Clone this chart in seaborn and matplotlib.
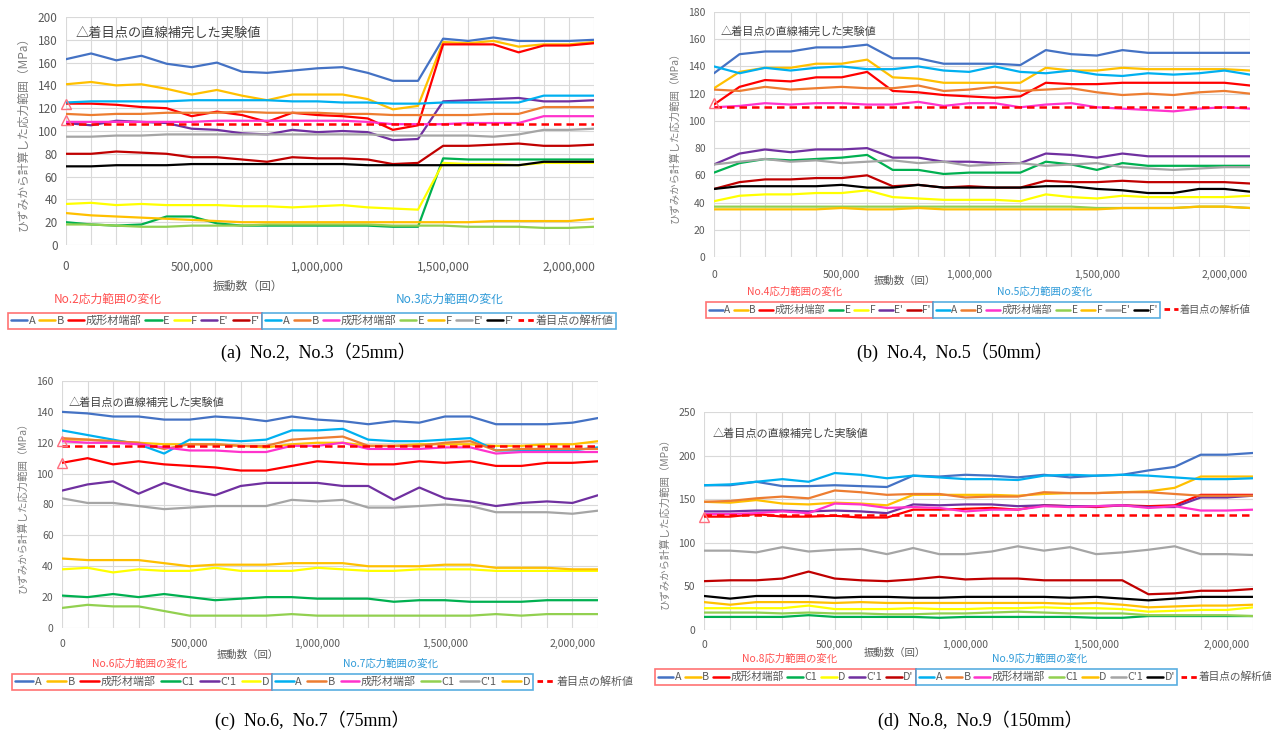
import matplotlib
matplotlib.use("Agg")
import matplotlib.pyplot as plt
from matplotlib.lines import Line2D
import seaborn as sns
import pandas as pd

# ---------------- data ----------------
cycles = [0, 100000, 200000, 300000, 400000, 500000, 600000, 700000, 800000, 900000, 1000000,
          1100000, 1200000, 1300000, 1400000, 1500000, 1600000, 1700000, 1800000, 1900000,
          2000000, 2100000]

# (a) No.2 / No.3 (25mm)
no2_A = [163,168,162,166,159,156,160,152,151,153,155,156,151,144,144,181,179,182,179,179,179,180]
no2_B = [141,143,140,141,137,132,136,131,127,132,132,132,128,119,122,178,177,179,174,176,176,178]
no2_edge = [124,124,123,121,120,113,117,114,108,116,114,113,111,101,105,176,176,176,169,175,175,177]
no2_E = [20,18,17,18,25,25,19,17,17,17,17,17,17,16,16,76,75,75,75,75,75,75]
no2_F = [36,37,35,36,35,35,35,34,34,33,34,35,33,32,31,72,71,71,70,72,72,72]
no2_Ep = [107,105,109,108,107,102,101,98,97,101,99,100,99,92,93,126,127,128,129,126,126,127]
no2_Fp = [80,80,82,81,80,77,77,75,73,77,76,76,75,71,72,87,87,88,89,87,87,88]
no3_A = [125,126,126,126,126,127,127,127,127,126,126,125,125,124,124,125,125,125,125,131,131,131]
no3_B = [115,114,115,115,116,116,116,117,116,116,116,115,115,114,114,114,114,115,115,121,121,121]
no3_edge = [108,108,108,108,108,108,109,109,109,109,109,109,108,106,106,106,107,107,107,113,113,113]
no3_E = [18,18,17,16,16,17,17,17,18,18,18,18,18,17,17,17,16,16,16,15,15,16]
no3_F = [28,26,25,24,23,22,21,20,20,20,20,20,20,20,20,20,20,21,21,21,21,23]
no3_Ep = [95,95,96,96,97,97,97,97,97,97,97,97,97,96,96,96,96,95,97,101,101,102]
no3_Fp = [69,69,70,70,70,71,71,71,71,71,71,71,70,70,70,70,70,70,70,73,73,73]
calc_a = 106
tri_a = [124, 110]

# (b) No.4 / No.5 (50mm)
no4_A = [135,149,151,151,154,154,156,146,146,142,142,142,141,152,149,148,152,150,150,150,150,150]
no4_B = [124,136,139,139,142,142,145,132,131,128,128,128,128,139,137,137,139,138,138,138,138,137]
no4_edge = [112,125,130,129,132,132,136,122,121,119,118,117,118,128,127,127,128,128,128,128,128,126]
no4_E = [62,69,72,71,72,73,75,64,64,61,62,62,62,70,68,64,69,67,67,67,67,67]
no4_F = [41,45,46,46,47,47,49,44,43,42,42,42,41,46,44,43,45,44,44,44,44,45]
no4_Ep = [68,76,79,77,79,79,80,73,73,70,70,69,69,76,75,73,76,74,74,74,74,74]
no4_Fp = [50,55,57,57,58,58,60,52,53,51,52,51,51,56,55,55,56,55,55,55,55,54]
no5_A = [140,135,139,137,139,140,138,138,140,137,136,140,136,135,137,134,133,135,134,135,137,134]
no5_B = [123,122,125,123,124,125,124,124,126,122,123,125,122,123,124,121,119,120,119,121,122,120]
no5_edge = [110,111,113,112,113,113,112,112,114,111,113,113,110,112,113,110,109,108,107,109,110,109]
no5_E = [37,37,37,37,37,37,37,37,37,37,37,37,37,37,37,36,36,36,36,37,37,36]
no5_F = [35,35,35,35,35,36,35,35,36,35,35,35,35,35,35,35,36,36,36,37,37,36]
no5_Ep = [68,70,72,70,71,69,70,71,69,70,67,68,69,67,68,69,66,65,64,65,66,66]
no5_Fp = [50,52,52,52,52,53,51,51,53,51,51,51,51,52,52,50,49,47,47,50,50,48]
calc_b = 110
tri_b = [113]

# (c) No.6 / No.7 (75mm)
no6_A = [140,139,137,137,135,135,137,136,134,137,135,134,132,134,133,137,137,132,132,132,133,136]
no6_B = [122,122,121,120,119,119,119,118,117,119,120,120,118,118,119,119,119,118,118,119,119,121]
no6_edge = [107,110,106,108,106,105,104,102,102,105,108,107,106,106,108,107,108,105,105,107,107,108]
no6_C1 = [21,20,22,20,22,20,18,19,20,20,19,19,19,17,18,18,17,17,17,18,18,18]
no6_C1p = [89,93,95,87,94,89,86,92,94,94,94,92,92,83,91,84,82,79,81,82,81,86]
no6_D = [38,39,36,38,37,37,39,37,37,37,39,38,37,37,38,38,38,37,37,37,37,37]
no7_A = [128,125,122,119,113,122,122,121,122,128,128,129,122,121,121,122,123,115,115,115,115,117]
no7_B = [123,122,121,120,116,119,119,118,118,122,123,124,118,118,118,120,121,115,116,116,116,116]
no7_edge = [121,120,120,119,117,115,115,114,114,118,118,120,116,116,116,117,117,113,114,114,114,114]
no7_C1 = [13,15,14,14,11,8,8,8,8,9,8,8,8,8,8,8,8,9,8,9,9,9]
no7_C1p = [84,81,81,79,77,78,79,79,79,83,82,83,78,78,79,80,79,75,75,75,74,76]
no7_D = [45,44,44,44,42,40,41,41,41,42,42,42,40,40,40,41,41,39,39,39,38,38]
calc_c = 118
tri_c = [121, 107]

# (d) No.8 / No.9 (150mm)
no8_A = [166,166,170,165,165,166,165,164,177,176,178,177,175,178,175,177,178,183,187,201,201,203]
no8_B = [147,146,149,145,144,146,145,143,155,155,155,155,154,156,157,157,158,159,163,176,176,176]
no8_edge = [130,130,133,130,130,131,129,129,138,138,139,140,138,143,142,141,143,142,143,155,155,155]
no8_C1 = [15,15,15,15,17,15,15,15,15,14,15,15,15,15,15,14,14,16,16,16,16,16]
no8_D = [25,25,25,25,28,24,24,24,25,24,24,25,25,26,25,25,24,21,22,23,23,26]
no8_C1p = [136,136,137,137,136,137,136,134,144,143,144,144,142,143,142,142,143,141,141,152,152,154]
no8_Dp = [56,57,57,59,67,59,57,56,58,61,58,59,59,57,57,57,57,41,42,45,45,47]
no9_A = [166,167,170,173,170,180,178,174,177,175,173,173,172,177,178,177,178,177,175,173,173,174]
no9_B = [147,148,151,153,151,160,158,155,156,156,152,153,153,158,157,157,158,158,156,154,154,154]
no9_edge = [133,133,134,136,134,145,144,140,141,140,136,138,138,142,141,142,143,140,142,137,137,138]
no9_C1 = [20,20,20,19,20,19,19,18,18,19,19,20,21,20,19,19,19,17,17,17,17,16]
no9_D = [32,29,32,32,32,31,32,31,31,31,31,31,31,31,30,31,29,26,27,28,28,29]
no9_C1p = [91,91,89,95,90,92,93,87,94,87,87,90,96,91,95,87,89,92,96,87,87,86]
no9_Dp = [39,36,39,39,39,37,38,38,37,37,38,38,38,38,37,38,36,34,36,38,38,38]
calc_d = 132
tri_d = [130]

labels_EF = ["A", "B", "成形材端部", "E", "F", "E'", "F'"]
labels_c = ["A", "B", "成形材端部", "C1", "C'1", "D"]
labels_d = ["A", "B", "成形材端部", "C1", "D", "C'1", "D'"]

# ---------------- style ----------------
sns.set_theme(style="white")
plt.rcParams["font.family"] = ["Noto Sans CJK JP", "DejaVu Sans"]

W, H = 1271, 740
fig = plt.figure(figsize=(W / 100, H / 100), dpi=100)
fig.patch.set_facecolor("white")

col1 = {"A": "#4472C4", "B": "#FFC000", "成形材端部": "#FF0000", "E": "#00B050", "C1": "#00B050",
        "F": "#FFFF00", "D": "#FFFF00", "E'": "#7030A0", "C'1": "#7030A0", "F'": "#C00000", "D'": "#C00000"}
col2 = {"A": "#00B0F0", "B": "#ED7D31", "成形材端部": "#FF33CC", "E": "#92D050", "C1": "#92D050",
        "F": "#FFC000", "D": "#FFC000", "E'": "#A5A5A5", "C'1": "#A5A5A5", "F'": "#000000", "D'": "#000000"}
TXT = "#595959"


def ax_rect(l, r, t, b):
    return [l / W, 1 - b / H, (r - l) / W, (b - t) / H]


def draw_panel(rect, ymax, ystep, s1, s2, labels, calc, tris, titles, caption, ann_xy,
               ann_size, xlabel_xy, title_y, title_x, legend_y, legend_x0, calc_inside, cap_xy,
               tick_size, leg_size, hlen, colsp, xpad):
    ax = fig.add_axes(ax_rect(*rect))
    ax.set_facecolor("white")
    for lab, vals in zip(labels, s1):
        df = pd.DataFrame({"cycles": cycles, "stress": vals})
        sns.lineplot(data=df, x="cycles", y="stress", color=col1[lab], lw=1.6, ax=ax, zorder=3)
    for lab, vals in zip(labels, s2):
        df = pd.DataFrame({"cycles": cycles, "stress": vals})
        sns.lineplot(data=df, x="cycles", y="stress", color=col2[lab], lw=1.6, ax=ax, zorder=3)
    ax.axhline(calc, color="#FF0000", lw=1.8, ls=(0, (3, 2)), zorder=4)
    for t in tris:
        ax.plot([0], [t], marker="^", ms=7, mfc="none", mec="#FF6F7F", mew=1.0,
                clip_on=False, zorder=5)
    ax.set_xlim(0, 2100000)
    ax.set_ylim(0, ymax)
    ax.set_xticks([0, 500000, 1000000, 1500000, 2000000])
    ax.set_xticklabels(["0", "500,000", "1,000,000", "1,500,000", "2,000,000"])
    ax.set_xticks(cycles, minor=True)
    ax.set_yticks(range(0, ymax + 1, ystep))
    ax.grid(True, which="both", axis="x", color="#D9D9D9", lw=0.8)
    ax.grid(True, which="major", axis="y", color="#D9D9D9", lw=0.8)
    ax.set_axisbelow(True)
    for sp in ax.spines.values():
        sp.set_visible(False)
    ax.tick_params(axis="both", which="both", length=0, labelsize=tick_size, labelcolor=TXT)
    ax.tick_params(axis="x", pad=xpad)
    ax.tick_params(axis="y", pad=6)
    ax.set_xlabel("")
    ax.set_ylabel("ひずみから計算した応力範囲（MPa）", fontsize=tick_size, color="#7F7F7F", labelpad=6)
    ax.text(ann_xy[0], ann_xy[1], "△着目点の直線補完した実験値", transform=ax.transAxes,
            fontsize=ann_size, color="#404040", va="center", ha="left")
    fig.text(xlabel_xy[0] / W, 1 - xlabel_xy[1] / H, "振動数（回）", fontsize=tick_size, color=TXT,
             ha="center", va="center")
    fig.text(title_x[0] / W, 1 - title_y / H, titles[0], fontsize=tick_size, color="#FF5050",
             ha="center", va="center")
    fig.text(title_x[1] / W, 1 - title_y / H, titles[1], fontsize=tick_size, color="#2E9AD8",
             ha="center", va="center")
    fig.text(cap_xy[0] / W, 1 - cap_xy[1] / H, caption, fontsize=13, color="black",
             ha="center", va="center", family=["Liberation Serif", "Noto Sans CJK JP"])

    # legends
    kw = dict(loc="center left", fontsize=leg_size, handlelength=hlen, handletextpad=0.15,
              columnspacing=colsp, borderpad=0.25, borderaxespad=0, fancybox=False,
              frameon=True, labelcolor=TXT)
    h1 = [Line2D([], [], color=col1[l], lw=1.8) for l in labels]
    h2 = [Line2D([], [], color=col2[l], lw=1.8) for l in labels]
    hc = Line2D([], [], color="#FF0000", lw=2.0, ls=(0, (2, 1.5)))
    leg1 = fig.legend(h1, labels, ncol=len(labels), edgecolor="#FF5050",
                      bbox_to_anchor=(legend_x0 / W, 1 - legend_y / H), **kw)
    leg1.get_frame().set_linewidth(1.2)
    fig.canvas.draw()
    x1 = leg1.get_window_extent().x1
    l2 = list(labels)
    hh2 = list(h2)
    if calc_inside:
        l2 = l2 + ["着目点の解析値"]
        hh2 = hh2 + [hc]
    leg2 = fig.legend(hh2, l2, ncol=len(l2), edgecolor="#2E9AD8",
                      bbox_to_anchor=(x1 / W, 1 - legend_y / H), **kw)
    leg2.get_frame().set_linewidth(1.2)
    if not calc_inside:
        fig.canvas.draw()
        x2 = leg2.get_window_extent().x1
        kw3 = dict(kw)
        kw3["frameon"] = False
        fig.legend([hc], ["着目点の解析値"], bbox_to_anchor=(x2 / W + 0.001, 1 - legend_y / H), **kw3)
    return ax


draw_panel((66, 594, 17, 245), 200, 20,
           [no2_A, no2_B, no2_edge, no2_E, no2_F, no2_Ep, no2_Fp],
           [no3_A, no3_B, no3_edge, no3_E, no3_F, no3_Ep, no3_Fp],
           labels_EF, calc_a, tri_a, ("No.2応力範囲の変化", "No.3応力範囲の変化"),
           "(a)  No.2,  No.3（25mm）", (0.018, 0.93), 9.5, (248, 286), 299, (108, 450),
           321, 8, True, (318, 352), 8.5, 8.0, 1.45, 0.35, 11)

draw_panel((714, 1250, 12, 257), 180, 20,
           [no4_A, no4_B, no4_edge, no4_E, no4_F, no4_Ep, no4_Fp],
           [no5_A, no5_B, no5_edge, no5_E, no5_F, no5_Ep, no5_Fp],
           labels_EF, calc_b, tri_b, ("No.4応力範囲の変化", "No.5応力範囲の変化"),
           "(b)  No.4,  No.5（50mm）", (0.012, 0.92), 8, (905, 281), 292, (795, 1045),
           310, 706, False, (955, 352), 7.5, 7.3, 1.38, 0.35, 9)

draw_panel((62, 598, 381, 628), 160, 20,
           [no6_A, no6_B, no6_edge, no6_C1, no6_C1p, no6_D],
           [no7_A, no7_B, no7_edge, no7_C1, no7_C1p, no7_D],
           labels_c, calc_c, tri_c, ("No.6応力範囲の変化", "No.7応力範囲の変化"),
           "(c)  No.6,  No.7（75mm）", (0.012, 0.915), 8, (248, 655), 664, (140, 390),
           682, 12, False, (312, 720), 7.5, 7.9, 1.7, 0.5, 8)

draw_panel((704, 1253, 412, 630), 250, 50,
           [no8_A, no8_B, no8_edge, no8_C1, no8_D, no8_C1p, no8_Dp],
           [no9_A, no9_B, no9_edge, no9_C1, no9_D, no9_C1p, no9_Dp],
           labels_d, calc_d, tri_d, ("No.8応力範囲の変化", "No.9応力範囲の変化"),
           "(d)  No.8,  No.9（150mm）", (0.015, 0.9), 8, (895, 653), 659, (790, 1040),
           677, 655, False, (980, 720), 7.5, 7.7, 1.45, 0.36, 7)

fig.savefig("out.png", dpi=100, facecolor="white")
